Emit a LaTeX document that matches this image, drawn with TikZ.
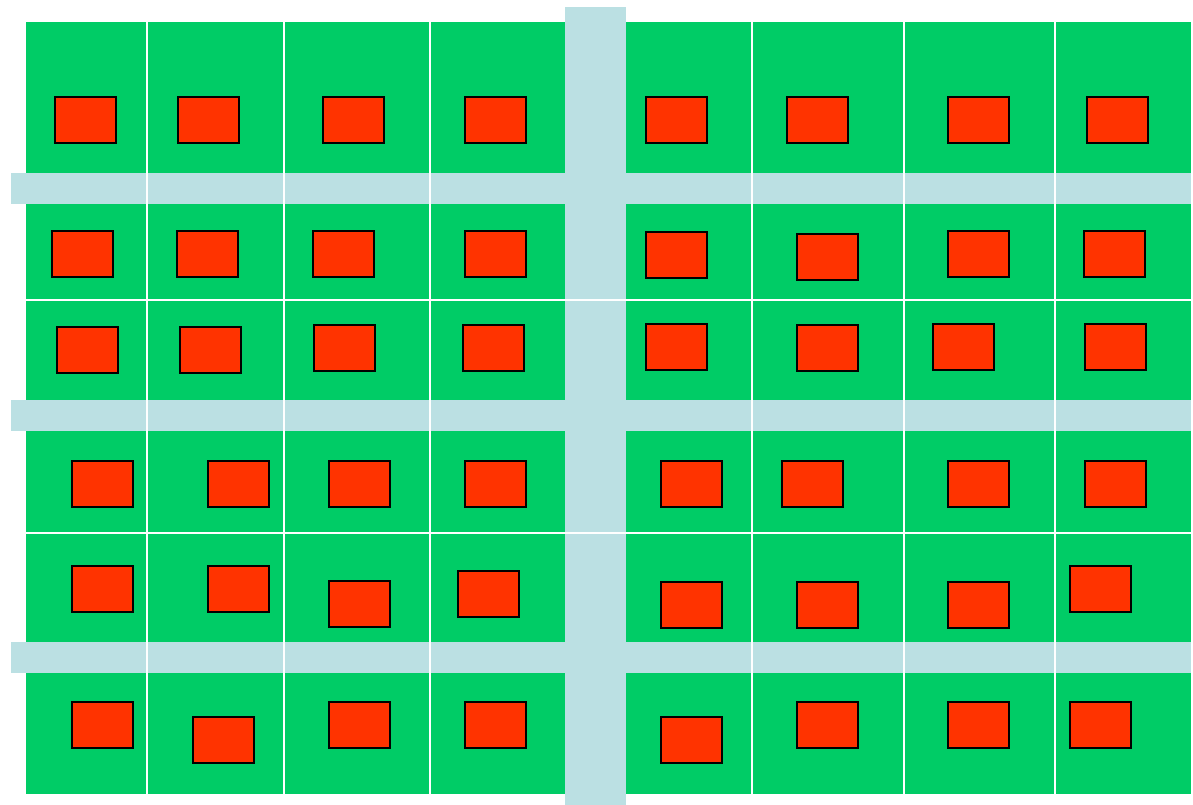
\documentclass[tikz,border=0pt]{standalone}
\usepackage{tikz}

\definecolor{lotgreen}{RGB}{0,204,102}
\definecolor{roadblue}{RGB}{187,224,227}
\definecolor{housered}{RGB}{255,51,0}

\tikzset{
    road/.style={fill=roadblue, draw=none},
    lotline/.style={white, line width=1.5pt},
    house/.style={fill=housered, draw=black, line width=1.3pt}
}

\begin{document}
\begin{tikzpicture}[x=1pt, y=-1pt]
    \def\hw{61}
    \def\hh{46}
    \useasboundingbox (0,0) rectangle (1193,805);

    % Land
    \fill[lotgreen] (26,22) rectangle (1191,794);

    % Roads
    \foreach \ytop in {173, 400, 642} {
        \fill[road] (11,\ytop) rectangle (1191,\ytop+31);
    }
    \fill[road] (565,7) rectangle (626,805);

    % Lot boundaries
    \foreach \x in {147, 284, 430, 752, 904, 1055} {
        \draw[lotline] (\x,22) -- (\x,794);
    }
    \foreach \y in {300, 533} {
        \draw[lotline] (26,\y) -- (1191,\y);
    }

    % Houses: top-left corner of each
    \foreach \x/\y in {55/97, 178/97, 323/97, 465/97, 646/97, 787/97, 948/97, 1087/97,
                       52/231, 177/231, 313/231, 465/231, 646/232, 797/234, 948/231, 1084/231,
                       57/327, 180/327, 314/325, 463/325, 646/324, 797/325, 933/324, 1085/324,
                       72/461, 208/461, 329/461, 465/461, 661/461, 782/461, 948/461, 1085/461,
                       72/566, 208/566, 329/581, 458/571, 661/582, 797/582, 948/582, 1070/566,
                       72/702, 193/717, 329/702, 465/702, 661/717, 797/702, 948/702, 1070/702} {
        \draw[house] (\x,\y) rectangle (\x+\hw,\y+\hh);
    }
\end{tikzpicture}
\end{document}
